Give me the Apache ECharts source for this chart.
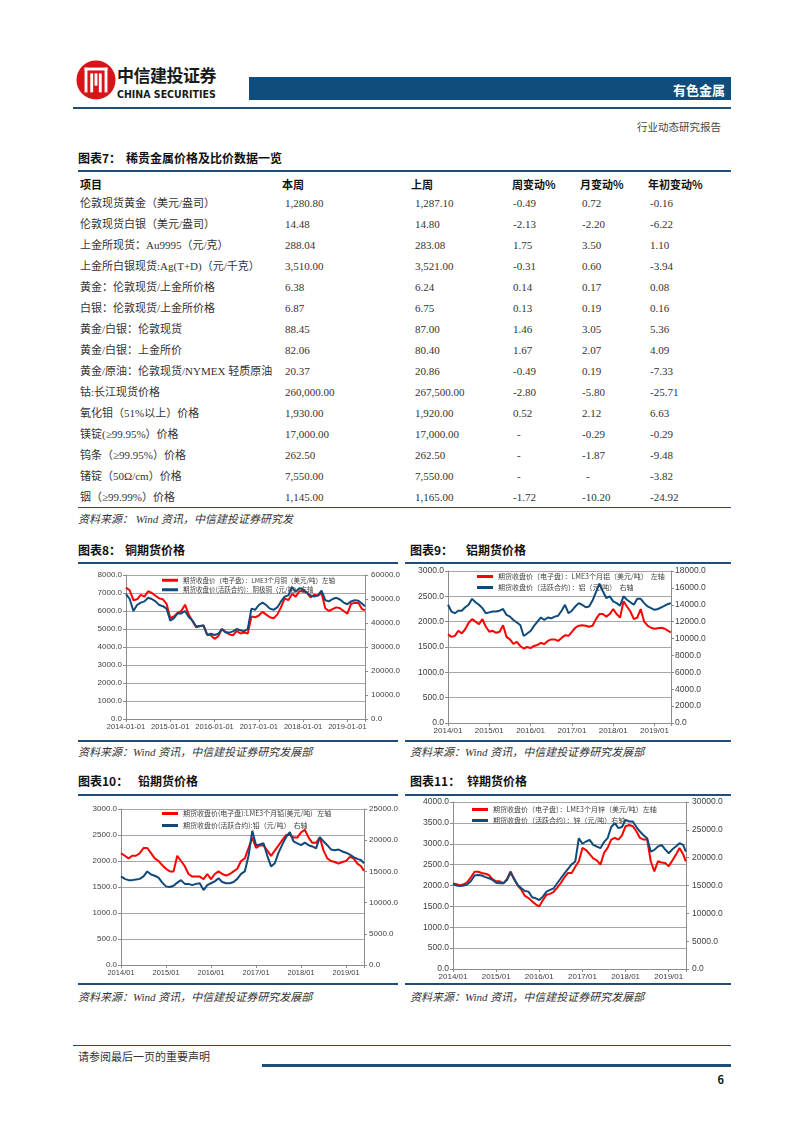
<!DOCTYPE html>
<html lang="zh-CN">
<head>
<meta charset="utf-8">
<title>有色金属 行业动态研究报告</title>
<script src="https://cdn.jsdelivr.net/npm/echarts@6.0.0/dist/echarts.min.js"></script>
<style>
  html, body { margin: 0; padding: 0; background: #fff; }
  #page { position: relative; width: 802px; height: 1133px; overflow: hidden; font-family: "Liberation Serif", "Noto Sans CJK SC", serif; color: #333; }
  .t { position: absolute; white-space: nowrap; line-height: 1; transform: translateY(-50%); }
  .hr { position: absolute; background: #1f4e79; }
  .chart { position: absolute; }
  .b { font-family: "Noto Sans CJK SC", sans-serif; font-weight: 700; color: #111; }
  .src { font-style: italic; font-size: 11px; color: #333; }
  .cell { font-size: 11px; }
</style>
</head>
<body>
<div id="page">
  <!-- 页眉 -->
  <svg style="position:absolute;left:76px;top:59px" width="40" height="42" viewBox="0 0 42 42">
    <circle cx="21" cy="21" r="20.5" fill="#d7141a"/>
    <g fill="#fff">
      <rect x="9" y="8" width="24" height="3"/>
      <rect x="9" y="8" width="3" height="26"/>
      <rect x="30" y="8" width="3" height="26"/>
      <rect x="15" y="14" width="3" height="20"/>
      <rect x="24" y="14" width="3" height="20"/>
      <rect x="19.5" y="14" width="3" height="13"/>
    </g>
  </svg>
  <div class="t b" style="left:117px;top:74px;font-size:17px;letter-spacing:-0.5px;color:#1a1a1a">中信建投证券</div>
  <div class="t" style="left:117px;top:94px;font-family:'DejaVu Sans Condensed','Liberation Sans',sans-serif;font-weight:700;font-size:10.5px;color:#1a1a1a">CHINA SECURITIES</div>
  <div style="position:absolute;left:249px;top:77px;width:482px;height:23px;background:#0e4d7e"></div>
  <div class="t b" style="right:77px;top:89px;font-size:13px;color:#fff">有色金属</div>
  <div class="hr" style="left:73px;top:107px;width:658px;height:1.5px"></div>
  <div class="t" style="right:81px;top:128px;font-size:10.5px;color:#444">行业动态研究报告</div>

  <!-- 图表7 -->
  <div class="t b" style="left:78px;top:158px;font-size:12px">图表7：</div>
  <div class="t b" style="left:126px;top:158px;font-size:12px">稀贵金属价格及比价数据一览</div>
  <div class="hr" style="left:78px;top:170px;width:653px;height:2px"></div>
  <div id="tbl"></div>
  <div class="hr" style="left:78px;top:507px;width:653px;height:1px"></div>
  <div class="t src" style="left:78px;top:519px">资料来源： Wind 资讯，中信建投证券研究发</div>

  <!-- 图表8 / 图表9 -->
  <div class="t b" style="left:78px;top:550px;font-size:12px">图表8：</div>
  <div class="t b" style="left:125px;top:550px;font-size:12px">铜期货价格</div>
  <div class="hr" style="left:78px;top:562px;width:320px;height:2px"></div>
  <div class="t b" style="left:410px;top:550px;font-size:12px">图表9：</div>
  <div class="t b" style="left:466px;top:550px;font-size:12px">铝期货价格</div>
  <div class="hr" style="left:405px;top:562px;width:326px;height:2px"></div>
  <div id="c8" class="chart" style="left:75px;top:566px;width:328px;height:172px"></div>
  <div id="c9" class="chart" style="left:405px;top:566px;width:326px;height:172px"></div>
  <div class="hr" style="left:78px;top:740px;width:320px;height:1.5px"></div>
  <div class="hr" style="left:405px;top:740px;width:326px;height:1.5px"></div>
  <div class="t src" style="left:78px;top:752px">资料来源：Wind 资讯，中信建投证券研究发展部</div>
  <div class="t src" style="left:410px;top:752px">资料来源：Wind 资讯，中信建投证券研究发展部</div>

  <!-- 图表10 / 图表11 -->
  <div class="t b" style="left:78px;top:781px;font-size:12px">图表10：</div>
  <div class="t b" style="left:138px;top:781px;font-size:12px">铅期货价格</div>
  <div class="hr" style="left:78px;top:794px;width:320px;height:2px"></div>
  <div class="t b" style="left:410px;top:781px;font-size:12px">图表11：</div>
  <div class="t b" style="left:467px;top:781px;font-size:12px">锌期货价格</div>
  <div class="hr" style="left:405px;top:794px;width:326px;height:2px"></div>
  <div id="c10" class="chart" style="left:75px;top:797px;width:326px;height:185px"></div>
  <div id="c11" class="chart" style="left:405px;top:797px;width:326px;height:185px"></div>
  <div class="hr" style="left:78px;top:983px;width:320px;height:1.5px"></div>
  <div class="hr" style="left:405px;top:983px;width:326px;height:1.5px"></div>
  <div class="t src" style="left:78px;top:997px">资料来源：Wind 资讯，中信建投证券研究发展部</div>
  <div class="t src" style="left:410px;top:997px">资料来源：Wind 资讯，中信建投证券研究发展部</div>

  <!-- 页脚 -->
  <div class="hr" style="left:73px;top:1045px;width:658px;height:1px"></div>
  <div class="t" style="left:78px;top:1057px;font-size:11px;color:#333">请参阅最后一页的重要声明</div>
  <div class="hr" style="left:262px;top:1064px;width:469px;height:3px"></div>
  <div class="t b" style="right:78px;top:1079px;font-size:11px">6</div>
</div>

<script>
// ---- 表格数据 ----
const tblHeader = ['项目', '本周', '上周', '周变动%', '月变动%', '年初变动%'];
const tblItems = [
  '伦敦现货黄金（美元/盎司）', '伦敦现货白银（美元/盎司）', '上金所现货：Au9995（元/克）',
  '上金所白银现货:Ag(T+D)（元/千克）', '黄金：伦敦现货/上金所价格', '白银：伦敦现货/上金所价格',
  '黄金/白银：伦敦现货', '黄金/白银：上金所价', '黄金/原油：伦敦现货/NYMEX 轻质原油',
  '钴:长江现货价格', '氧化钼（51%以上）价格', '镁锭(≥99.95%）价格',
  '钨条（≥99.95%）价格', '锗锭（50Ω/cm）价格', '铟（≥99.99%）价格'
];
const thisWeek = ['1,280.80', '14.48', '288.04', '3,510.00', '6.38', '6.87', '88.45', '82.06', '20.37', '260,000.00', '1,930.00', '17,000.00', '262.50', '7,550.00', '1,145.00'];
const lastWeek = ['1,287.10', '14.80', '283.08', '3,521.00', '6.24', '6.75', '87.00', '80.40', '20.86', '267,500.00', '1,920.00', '17,000.00', '262.50', '7,550.00', '1,165.00'];
const weekChg  = ['-0.49', '-2.13', '1.75', '-0.31', '0.14', '0.13', '1.46', '1.67', '-0.49', '-2.80', '0.52', '-', '-', '-', '-1.72'];
const monthChg = ['0.72', '-2.20', '3.50', '0.60', '0.17', '0.19', '3.05', '2.07', '0.19', '-5.80', '2.12', '-0.29', '-1.87', '-', '-10.20'];
const ytdChg   = ['-0.16', '-6.22', '1.10', '-3.94', '0.08', '0.16', '5.36', '4.09', '-7.33', '-25.71', '6.63', '-0.29', '-9.48', '-3.82', '-24.92'];

// ---- 期货价格（月度，末点为 2019-05-24）----
const dates = [
  '2014-01-01','2014-02-01','2014-03-01','2014-04-01','2014-05-01','2014-06-01','2014-07-01','2014-08-01','2014-09-01','2014-10-01','2014-11-01','2014-12-01',
  '2015-01-01','2015-02-01','2015-03-01','2015-04-01','2015-05-01','2015-06-01','2015-07-01','2015-08-01','2015-09-01','2015-10-01','2015-11-01','2015-12-01',
  '2016-01-01','2016-02-01','2016-03-01','2016-04-01','2016-05-01','2016-06-01','2016-07-01','2016-08-01','2016-09-01','2016-10-01','2016-11-01','2016-12-01',
  '2017-01-01','2017-02-01','2017-03-01','2017-04-01','2017-05-01','2017-06-01','2017-07-01','2017-08-01','2017-09-01','2017-10-01','2017-11-01','2017-12-01',
  '2018-01-01','2018-02-01','2018-03-01','2018-04-01','2018-05-01','2018-06-01','2018-07-01','2018-08-01','2018-09-01','2018-10-01','2018-11-01','2018-12-01',
  '2019-01-01','2019-02-01','2019-03-01','2019-04-01','2019-05-01','2019-05-24'
];
const cuLme = [7300,7150,6600,6650,6900,6800,7100,7000,6850,6700,6650,6400,
  5600,5700,5900,6000,6350,5800,5450,5100,5150,5200,4700,4650,
  4450,4600,5000,4850,4700,4650,4900,4750,4800,4750,5700,5650,
  5750,5950,5800,5650,5600,5800,6200,6700,6600,6950,6800,7100,
  7100,7050,6750,6900,6850,7000,6150,6000,6100,6200,6150,6000,
  5850,6400,6450,6450,6100,6050];
const cuShfe = [52000,50000,45000,47500,48500,49000,50500,50000,49000,47500,47000,46000,
  41000,42000,44000,44000,45000,42500,41000,38500,38800,39000,35000,35500,
  35000,35500,37500,36000,36000,36500,37500,37000,36500,37500,46000,45500,
  47500,48500,47500,46000,45500,46500,49000,51000,51500,55000,53000,54500,
  54000,52500,51500,51000,51500,53500,49500,49000,50000,50500,49800,48500,
  47800,49000,49500,49300,48000,47000];
const alLme = [1750,1700,1720,1820,1770,1850,1980,2050,2000,1950,2050,1900,
  1800,1820,1780,1800,1930,1700,1650,1560,1600,1520,1470,1500,
  1480,1520,1540,1580,1560,1620,1650,1650,1620,1680,1730,1720,
  1800,1880,1920,1930,1920,1900,1920,2050,2150,2150,2100,2150,
  2250,2150,2080,2400,2300,2200,2050,2080,2250,2000,1920,1880,
  1860,1870,1880,1860,1820,1790];
const alShfe = [14000,13200,13000,13300,13300,13700,14000,14700,14300,14000,13600,13000,
  13100,13200,13200,13300,13500,12800,12600,12200,11900,11600,10300,10600,
  10900,11500,12000,12500,12200,12500,12400,12600,12700,13300,14000,13000,
  13300,13800,14200,14000,13700,13800,14500,15500,16500,15600,14800,15000,
  14400,14200,13900,15000,14600,14300,14000,14700,14700,14200,13800,13600,
  13400,13500,13700,13900,14100,14200];
const pbLme = [2150,2100,2050,2100,2100,2150,2250,2250,2150,2050,2000,1920,
  1850,1800,1800,2100,2000,1900,1750,1700,1700,1700,1650,1750,
  1650,1750,1800,1750,1720,1750,1800,1850,2000,2050,2250,2450,
  2250,2300,2300,2200,2100,2200,2300,2400,2500,2500,2450,2450,
  2550,2600,2450,2350,2350,2450,2200,2050,2000,1980,1950,1980,
  2000,2080,2050,1950,1900,1810];
const pbShfe = [14200,13800,13600,13600,13700,13800,14200,15000,14500,14300,14000,13200,
  12600,12500,12700,13200,13600,13000,13000,12800,13000,13100,12000,12800,
  13100,13400,13900,13300,13100,13100,13300,13800,14600,15000,17500,21500,
  19200,19300,19500,17500,15800,16300,18000,19300,20500,21300,19800,19500,
  19200,19600,19200,19000,18700,20500,19800,19200,18500,18400,18500,18200,
  18000,17700,17300,17000,16800,16300];
const znLme = [2050,2030,2000,2030,2080,2200,2330,2330,2300,2280,2250,2150,
  2100,2100,2050,2150,2340,2150,2000,1900,1750,1700,1620,1550,
  1500,1650,1780,1800,1850,1950,2060,2200,2300,2300,2450,2580,
  2900,2850,2750,2650,2600,2500,2780,2900,3100,3140,3100,3200,
  3420,3450,3420,3300,3140,3100,3100,2580,2340,2580,2550,2540,
  2460,2600,2740,2900,2750,2580];
const znShfe = [15200,15000,14900,15000,15200,15800,16800,16900,16800,16500,16300,16000,
  15500,15400,15400,16000,17300,16200,15100,14500,14000,13900,12900,12700,
  12400,13000,13900,14200,14500,15400,16300,17200,18000,18800,19300,23500,
  22500,22900,23200,22300,22000,21700,22800,23500,25500,26200,25300,25500,
  26800,26500,26500,25500,24700,24000,23500,21100,21400,22000,22300,21500,
  20800,21500,22000,22600,22300,21100];

// ---- 表格 ----
const colX = [80, 285, 415, 513, 582, 650];
const headX = [80, 282, 411, 512, 580, 648];
const tbl = document.getElementById('tbl');
function cell(x, y, s, cls) {
  const d = document.createElement('div');
  d.className = 't ' + cls;
  d.style.left = x + 'px';
  d.style.top = y + 'px';
  d.textContent = s;
  tbl.appendChild(d);
}
tblHeader.forEach((h, i) => cell(headX[i], 184, h, 'b cell'));
const cols = [tblItems, thisWeek, lastWeek, weekChg, monthChg, ytdChg];
tblItems.forEach((_, r) => {
  const y = 203 + r * 21;
  cols.forEach((col, c) => cell(colX[c] + (col[r] === '-' ? 4 : 0), y, col[r], 'cell'));
});

// ---- 图表 ----
function toYear(s) {
  const [y, m, d] = s.split('-').map(Number);
  return y + (m - 1) / 12 + (d - 1) / 365;
}
const xs = dates.map(toYear);
const RED = '#ff0000', BLUE = '#0f4a7b', AXIS = '#8c8c8c';

function drawChart(id, cfg) {
  const chart = echarts.init(document.getElementById(id));
  const yAxisBase = {
    type: 'value', min: 0,
    axisLine: { show: true, lineStyle: { color: AXIS } },
    axisTick: { show: true, length: 3, lineStyle: { color: AXIS } },
    axisLabel: { fontSize: cfg.font, color: '#404040', margin: 4, formatter: v => v.toFixed(1) }
  };
  chart.setOption({
    animation: false,
    textStyle: { fontFamily: 'Liberation Sans, Arial, sans-serif' },
    grid: { left: cfg.grid[0], top: cfg.grid[1], right: cfg.grid[2], bottom: cfg.grid[3] },
    legend: {
      orient: 'vertical', left: cfg.legend[0], top: cfg.legend[1], itemGap: cfg.legend[2],
      padding: 0, icon: 'rect', itemWidth: 16, itemHeight: 3,
      textStyle: { fontSize: cfg.legendFont, color: '#404040', fontFamily: 'Noto Sans CJK SC' },
      data: cfg.names
    },
    xAxis: {
      type: 'value', min: 2014, max: 2019.4, interval: 1,
      axisLine: { lineStyle: { color: AXIS } },
      axisTick: { length: 3, lineStyle: { color: AXIS } },
      splitLine: { show: false },
      axisLabel: {
        fontSize: cfg.font - 0.5, color: '#404040', margin: 4,
        formatter: v => Math.abs(v - Math.round(v)) < 1e-6 ? Math.round(v) + cfg.xSuffix : ''
      }
    },
    yAxis: [
      Object.assign({}, yAxisBase, {
        max: cfg.left[0], interval: cfg.left[1],
        splitLine: { show: true, lineStyle: { color: '#a6a6a6', width: 1 } }
      }),
      Object.assign({}, yAxisBase, {
        max: cfg.right[0], interval: cfg.right[1], position: 'right',
        splitLine: { show: false },
        axisLabel: Object.assign({}, yAxisBase.axisLabel, { margin: cfg.rMargin })
      })
    ],
    series: [
      {
        name: cfg.names[0], type: 'line', yAxisIndex: 0, symbol: 'none',
        data: xs.map((x, i) => [x, cfg.red[i]]),
        lineStyle: { color: RED, width: 2 }, itemStyle: { color: RED }
      },
      {
        name: cfg.names[1], type: 'line', yAxisIndex: 1, symbol: 'none',
        data: xs.map((x, i) => [x, cfg.blue[i]]),
        lineStyle: { color: BLUE, width: 2 }, itemStyle: { color: BLUE }
      }
    ]
  });
}

drawChart('c8', {
  grid: [51, 9, 33, 19], font: 8, xSuffix: '-01-01', rMargin: 6, legendFont: 6.5,
  left: [8000, 1000], right: [60000, 10000],
  legend: [87, 11, 3],
  names: ['期货收盘价（电子盘）：LME3个月铜（美元/吨）左轴', '期货收盘价(活跃合约)：阴极铜（元/吨）右轴'],
  red: cuLme, blue: cuShfe
});
drawChart('c9', {
  grid: [43, 5, 60, 15], font: 8.5, xSuffix: '/01', rMargin: 4, legendFont: 7,
  left: [3000, 500], right: [18000, 2000],
  legend: [72, 7, 4],
  names: ['期货收盘价（电子盘）：LME3个月铝（美元/吨）  左轴', '期货收盘价（活跃合约）：铝（元/吨）  右轴'],
  red: alLme, blue: alShfe
});
drawChart('c10', {
  grid: [46, 12, 33, 17], font: 8, xSuffix: '/01', rMargin: 5, legendFont: 7,
  left: [3000, 500], right: [25000, 5000],
  legend: [87, 13, 5],
  names: ['期货收盘价(电子盘):LME3个月铅(美元/吨)   左轴', '期货收盘价(活跃合约):铅（元/吨）  右轴'],
  red: pbLme, blue: pbShfe
});
drawChart('c11', {
  grid: [48, 5, 45, 13], font: 8.5, xSuffix: '/01', rMargin: 6, legendFont: 7,
  left: [4000, 500], right: [30000, 5000],
  legend: [67, 9, 4],
  names: ['期货收盘价（电子盘）：LME3个月锌（美元/吨）左轴', '期货收盘价（活跃合约）：锌（元/吨）右轴'],
  red: znLme, blue: znShfe
});
</script>
</body>
</html>
